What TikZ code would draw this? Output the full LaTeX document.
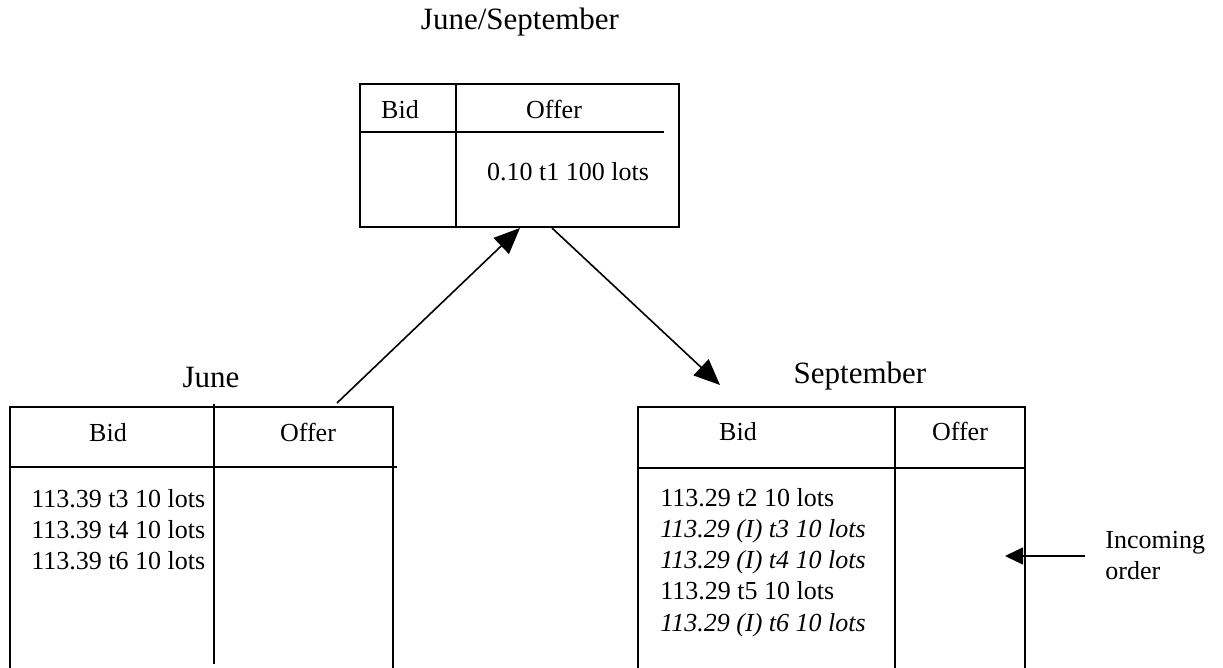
\documentclass[tikz,border=0pt]{standalone}
\usepackage{fontspec}
\setmainfont{Liberation Serif}
\usetikzlibrary{arrows.meta}

\tikzset{
    cell/.style={font=\fontsize{13}{15.5}\selectfont, inner sep=0pt},
    trade/.style={cell, font=\fontsize{13}{15.5}\selectfont\itshape},
    head/.style={font=\fontsize{15.5}{18}\selectfont, inner sep=0pt},
    frame/.style={line width=1pt},
    link/.style={line width=0.8pt, -{Triangle[length=13pt,width=11pt]}},
}

\begin{document}
\begin{tikzpicture}[x=0.5pt,y=-0.5pt]
    \clip (0,0) rectangle (1223,668);

    % spread book
    \node[head, anchor=base] (spreadname) at (520,30) {June/September};
    \begin{scope}[frame]
    \draw (360,84) rectangle (679,227);
    \draw (456,84) -- (456,227);
    \draw (360,132) -- (664,132);
    \end{scope}
    \node[cell, anchor=base] (spreadbid) at (400,119) {Bid};
    \node[cell, anchor=base] (spreadoffer) at (554,119) {Offer};
    \node[cell, anchor=base] (spreadrow) at (568,181) {0.10 t1 100 lots};

    % June book
    \node[head, anchor=base] (junename) at (211,388) {June};
    \begin{scope}[frame]
    \draw (10,690) -- (10,407) -- (393,407) -- (393,690);
    \draw (214,404) -- (214,664);
    \draw (10,467) -- (397,467);
    \end{scope}
    \node[cell, anchor=base] (junebid) at (108,442) {Bid};
    \node[cell, anchor=base] (juneoffer) at (308,442) {Offer};
    \node[cell, anchor=base west] (junea) at (31,508) {113.39 t3 10 lots};
    \node[cell, anchor=base west] (juneb) at (31,539) {113.39 t4 10 lots};
    \node[cell, anchor=base west] (junec) at (31,570) {113.39 t6 10 lots};

    % September book
    \node[head, anchor=base] (septname) at (860,384) {September};
    \begin{scope}[frame]
    \draw (638,690) -- (638,407) -- (1025,407) -- (1025,690);
    \draw (895,407) -- (895,690);
    \draw (638,468) -- (1025,468);
    \end{scope}
    \node[cell, anchor=base] (septbid) at (738,441) {Bid};
    \node[cell, anchor=base] (septoffer) at (960,441) {Offer};
    \node[cell, anchor=base west] (septa) at (660,507) {113.29 t2 10 lots};
    \node[trade, anchor=base west] (septb) at (660,538) {113.29 (I) t3 10 lots};
    \node[trade, anchor=base west] (septc) at (660,569) {113.29 (I) t4 10 lots};
    \node[cell, anchor=base west] (septd) at (660,600) {113.29 t5 10 lots};
    \node[trade, anchor=base west] (septe) at (660,632) {113.29 (I) t6 10 lots};

    % legs and incoming order
    \coordinate (junetop) at (337,403);
    \coordinate (spreadin) at (520,228);
    \coordinate (spreadout) at (552,228);
    \coordinate (septtop) at (720,385);
    \coordinate (ordertail) at (1085,556);
    \coordinate (orderhead) at (1005,556);
    \draw [link] (junetop) -- (spreadin);
    \draw [link] (spreadout) -- (septtop);
    \draw [link, -{Triangle[length=9pt,width=8.5pt]}] (ordertail) -- (orderhead);
    \node[cell, anchor=base west, align=left] (incoming) at (1105,580) {Incoming\\order};
\end{tikzpicture}
\end{document}
